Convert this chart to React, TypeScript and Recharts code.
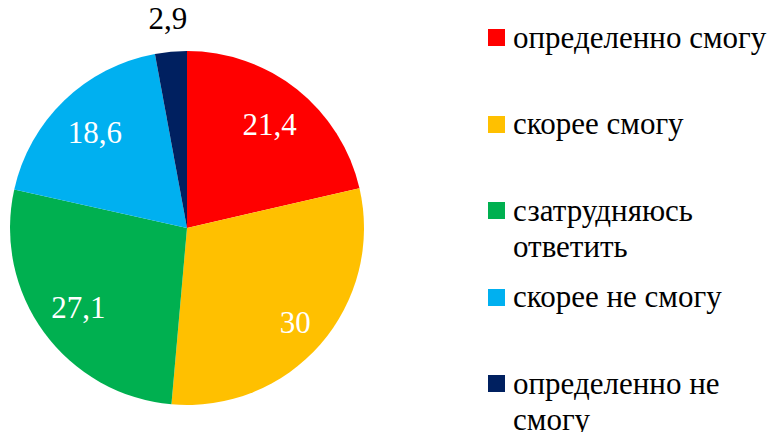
import { PieChart, Pie, Cell, Legend } from "recharts";

const CATEGORIES = [
  "определенно смогу",
  "скорее смогу",
  "сзатрудняюсь ответить",
  "скорее не смогу",
  "определенно не смогу",
];
const VALUES = [21.4, 30, 27.1, 18.6, 2.9];
const COLORS = ["#ff0000", "#ffc000", "#00b050", "#00b0f0", "#002060"];

const data = CATEGORIES.map((name, i) => ({ name, value: VALUES[i] }));

const FONT = "Liberation Serif";
const RADIAN = Math.PI / 180;
// label distance from centre, as share of the radius (last one sits outside)
const LABEL_R = [0.75, 0.81, 0.76, 0.75, 1.19];

const renderLabel = (props: any) => {
  const { cx, cy, midAngle, outerRadius, value, index } = props;
  const r = outerRadius * LABEL_R[index];
  const x = cx + r * Math.cos(-midAngle * RADIAN);
  const y = cy + r * Math.sin(-midAngle * RADIAN);
  return (
    <text
      x={x}
      y={y}
      fill={index === 4 ? "#000" : "#fff"}
      textAnchor="middle"
      dominantBaseline="central"
      fontFamily={FONT}
      fontSize={31}
    >
      {String(value).replace(".", ",")}
    </text>
  );
};

const renderLegend = () => (
  <div style={{ fontFamily: FONT, fontSize: 31, lineHeight: "36px" }}>
    {data.map((d, i) => (
      <div key={d.name} style={{ display: "flex", height: 86.5 }}>
        <div
          style={{
            width: 17,
            height: 17,
            background: COLORS[i],
            marginTop: 9.5,
            marginRight: 8,
            flexShrink: 0,
          }}
        />
        <div style={{ width: 265, color: "#000" }}>{d.name}</div>
      </div>
    ))}
  </div>
);

export default function App() {
  return (
    <div style={{ position: "absolute", left: 0, top: 0, background: "#fff" }}>
      <PieChart width={778} height={432} margin={{ top: 0, right: 0, bottom: 0, left: 0 }}>
        <Pie
          data={data}
          dataKey="value"
          cx={187}
          cy={228}
          outerRadius={177}
          startAngle={90}
          endAngle={-270}
          stroke="none"
          label={renderLabel}
          labelLine={false}
          isAnimationActive={false}
        >
          {data.map((_, i) => (
            <Cell key={i} fill={COLORS[i]} />
          ))}
        </Pie>
        <Legend
          content={renderLegend}
          layout="vertical"
          wrapperStyle={{ position: "absolute", left: 488, top: 19.5, width: 290 }}
        />
      </PieChart>
    </div>
  );
}
